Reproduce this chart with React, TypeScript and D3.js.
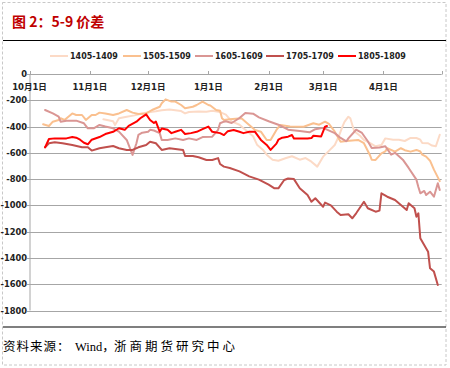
import React from "react";
import * as d3 from "d3";

// ---------- data ----------
const seriesNames = ["1405-1409", "1505-1509", "1605-1609", "1705-1709", "1805-1809"];
const seriesColors = ["#FCDAC6", "#FAC08F", "#DA9694", "#C0504D", "#FF0000"];

const s1405: [string, number][] = [
  ["11-08", -345], ["11-13", -360], ["11-14", -388], ["11-16", -337], ["11-20", -325],
  ["11-24", -315], ["11-28", -300], ["12-03", -287], ["12-05", -284], ["12-08", -276],
  ["12-12", -271], ["12-15", -276], ["12-18", -282], ["12-20", -300], ["12-22", -289],
  ["12-27", -285], ["12-31", -287], ["01-03", -279], ["01-07", -290], ["01-10", -309],
  ["01-13", -360], ["01-17", -386], ["01-20", -424], ["01-24", -474], ["01-26", -538],
  ["01-29", -576], ["01-31", -614], ["02-03", -652], ["02-06", -660], ["02-10", -639],
  ["02-13", -626], ["02-17", -652], ["02-20", -640], ["02-23", -667], ["02-26", -705],
  ["03-01", -629], ["03-04", -585], ["03-07", -540], ["03-09", -477], ["03-11", -398],
  ["03-12", -365], ["03-14", -325], ["03-15", -337], ["03-17", -436], ["03-20", -470],
  ["03-22", -502], ["03-25", -525], ["03-28", -550], ["03-31", -540], ["04-02", -490],
  ["04-06", -500], ["04-09", -500], ["04-12", -510], ["04-15", -487], ["04-18", -487],
  ["04-20", -500], ["04-21", -525], ["04-24", -527], ["04-26", -545], ["04-28", -550],
  ["04-30", -462],
];

const s1505: [string, number][] = [
  ["10-08", -383], ["10-11", -396], ["10-13", -363], ["10-16", -350], ["10-17", -337],
  ["10-19", -350], ["10-23", -300], ["10-25", -312], ["10-28", -312], ["10-30", -350],
  ["11-02", -312], ["11-04", -312], ["11-06", -294], ["11-09", -300], ["11-13", -312],
  ["11-16", -300], ["11-20", -274], ["11-23", -294], ["11-26", -304], ["11-30", -300],
  ["12-03", -274], ["12-07", -249], ["12-08", -223], ["12-10", -193], ["12-13", -210],
  ["12-15", -210], ["12-18", -236], ["12-20", -261], ["12-24", -249], ["12-26", -236],
  ["12-29", -210], ["01-01", -236], ["01-02", -240], ["01-05", -274], ["01-07", -280],
  ["01-08", -337], ["01-09", -350], ["01-12", -345], ["01-18", -337], ["01-22", -388],
  ["01-25", -426], ["01-28", -439], ["01-31", -502], ["02-02", -502], ["02-05", -426],
  ["02-07", -388], ["02-12", -400], ["02-19", -401], ["02-24", -375], ["02-27", -386],
  ["03-02", -363], ["03-04", -380], ["03-07", -439], ["03-10", -515], ["03-13", -510],
  ["03-19", -502], ["03-22", -527], ["03-25", -614], ["03-26", -652], ["03-28", -654],
  ["03-31", -604], ["04-02", -589], ["04-03", -565], ["04-07", -591], ["04-10", -565],
  ["04-12", -580], ["04-15", -591], ["04-18", -578], ["04-20", -590], ["04-21", -614],
  ["04-23", -629], ["04-25", -660], ["04-27", -728], ["04-30", -815],
];

const s1605: [string, number][] = [
  ["10-09", -274], ["10-13", -300], ["10-16", -325], ["10-17", -363], ["10-20", -355],
  ["10-25", -355], ["10-29", -375], ["10-31", -413], ["11-03", -413], ["11-06", -388],
  ["11-09", -400], ["11-13", -413], ["11-16", -439], ["11-20", -502], ["11-22", -578],
  ["11-23", -616], ["11-25", -527], ["11-26", -464], ["11-28", -447], ["12-01", -440],
  ["12-02", -425], ["12-04", -430], ["12-07", -450], ["12-08", -502], ["12-11", -502],
  ["12-15", -490], ["12-19", -502], ["12-22", -490], ["12-26", -502], ["12-29", -480],
  ["01-03", -477], ["01-06", -425], ["01-07", -375], ["01-09", -363], ["01-10", -360],
  ["01-13", -373], ["01-17", -335], ["01-20", -297], ["01-24", -302], ["01-27", -330],
  ["02-01", -360], ["02-06", -386], ["02-11", -424], ["02-17", -434], ["02-22", -444],
  ["02-25", -420], ["03-01", -410], ["03-03", -424], ["03-07", -450], ["03-10", -487],
  ["03-13", -512], ["03-14", -490], ["03-18", -424], ["03-21", -449], ["03-24", -512],
  ["03-26", -563], ["03-30", -560], ["04-02", -550], ["04-05", -614], ["04-07", -600],
  ["04-11", -652], ["04-14", -715], ["04-18", -804], ["04-19", -860], ["04-20", -908],
  ["04-22", -890], ["04-23", -921], ["04-25", -896], ["04-27", -934], ["04-29", -832],
  ["04-30", -883],
];

const s1705: [string, number][] = [
  ["10-09", -558], ["10-11", -527], ["10-14", -520], ["10-18", -527], ["10-23", -540],
  ["10-28", -558], ["10-31", -558], ["11-02", -583], ["11-06", -565], ["11-09", -558],
  ["11-13", -548], ["11-16", -565], ["11-20", -578], ["11-23", -578], ["11-26", -558],
  ["11-30", -540], ["12-02", -515], ["12-05", -527], ["12-08", -578], ["12-12", -565],
  ["12-15", -570], ["12-19", -578], ["12-20", -624], ["12-24", -624], ["12-27", -634],
  ["12-31", -654], ["01-03", -654], ["01-06", -640], ["01-07", -685], ["01-09", -705],
  ["01-12", -715], ["01-17", -741], ["01-22", -779], ["01-27", -804], ["02-01", -842],
  ["02-04", -870], ["02-06", -870], ["02-09", -807], ["02-11", -795], ["02-14", -800],
  ["02-17", -870], ["02-21", -921], ["02-23", -972], ["02-25", -946], ["03-01", -1010],
  ["03-02", -979], ["03-05", -1000], ["03-08", -1048], ["03-10", -1073], ["03-14", -1068],
  ["03-16", -1098], ["03-18", -1060], ["03-22", -972], ["03-24", -1022], ["03-28", -1048],
  ["03-30", -1040], ["03-31", -908], ["04-03", -934], ["04-07", -959], ["04-10", -997],
  ["04-13", -1035], ["04-14", -984], ["04-17", -1022], ["04-18", -1086], ["04-19", -1060],
  ["04-20", -1250], ["04-24", -1352], ["04-25", -1479], ["04-27", -1504], ["04-29", -1606],
];

const s1805: [string, number][] = [
  ["10-09", -558], ["10-11", -495], ["10-14", -490], ["10-20", -490], ["10-23", -480],
  ["10-25", -485], ["10-27", -500], ["10-29", -523], ["10-31", -535], ["11-02", -500],
  ["11-06", -480], ["11-09", -457], ["11-13", -440], ["11-16", -413], ["11-19", -425],
  ["11-21", -395], ["11-25", -363], ["11-27", -337], ["11-30", -307], ["12-02", -350],
  ["12-04", -373], ["12-05", -362], ["12-07", -440], ["12-08", -415], ["12-11", -425],
  ["12-13", -450], ["12-15", -440], ["12-18", -425], ["12-20", -457], ["12-23", -450],
  ["12-26", -440], ["12-29", -420], ["01-01", -400], ["01-03", -440], ["01-07", -450],
  ["01-09", -465], ["01-11", -435], ["01-14", -426], ["01-17", -440], ["01-19", -450],
  ["01-22", -440], ["01-25", -440], ["01-28", -502], ["01-31", -540], ["02-02", -578],
  ["02-05", -530], ["02-06", -500], ["02-08", -485], ["02-11", -477], ["02-13", -464],
  ["02-14", -490], ["02-17", -490], ["02-21", -490], ["02-23", -488], ["02-24", -470],
  ["02-28", -475], ["03-02", -401], ["03-03", -396],
];

const seriesData = [s1405, s1505, s1605, s1705, s1805];

const yTicks = [0, -200, -400, -600, -800, -1000, -1200, -1400, -1600, -1800];
const xTickLabels = ["10月1日", "11月1日", "12月1日", "1月1日", "2月1日", "3月1日", "4月1日"];
const xTickDates = ["2017-10-01", "2017-11-01", "2017-12-01", "2018-01-01", "2018-02-01", "2018-03-01", "2018-04-01"];
const titleText = "图 2：5-9 价差";

// ---------- helpers ----------
const parseFull = d3.timeParse("%Y-%m-%d");
const toDate = (md: string) => {
  const m = +md.slice(0, 2);
  return parseFull(`${m >= 10 ? 2017 : 2018}-${md}`) as Date;
};

export default function App() {
  const x = d3
    .scaleTime()
    .domain([new Date(2017, 9, 1), new Date(2018, 4, 1)])
    .range([29.5, 441.7]);
  const y = d3.scaleLinear().domain([-1800, 0]).range([310.5, 74]);
  const line = d3
    .line<[string, number]>()
    .x((d) => x(toDate(d[0])))
    .y((d) => y(d[1]));

  const x0 = x.range()[0];
  const x1 = x.range()[1];
  const tickDates = [...xTickDates.map((s) => parseFull(s) as Date), new Date(2018, 4, 1)];

  const legendX = [50, 123, 195, 266, 338];

  return (
    <div style={{ position: "absolute", left: 0, top: 0 }}>
      <svg width={450} height={368} style={{ display: "block" }}>
        <rect x={0} y={0} width={450} height={368} fill="#fff" />
        <rect
          x={2.5}
          y={2.5}
          width={443.5}
          height={362.5}
          fill="none"
          stroke="#C8C8C8"
          strokeDasharray="3,2"
        />
        <text
          x={12}
          y={27}
          fill="#C00000"
          fontFamily="'Noto Sans CJK SC', sans-serif"
          fontWeight="bold"
          fontSize={14}
        >
          {titleText}
        </text>
        <line x1={3} x2={446} y1={40.5} y2={40.5} stroke="#000" strokeWidth={1.2} />

        {/* legend */}
        {seriesNames.map((n, i) => (
          <g key={n}>
            <line
              x1={legendX[i]}
              x2={legendX[i] + 18}
              y1={56}
              y2={56}
              stroke={seriesColors[i]}
              strokeWidth={2}
            />
            <text
              x={legendX[i] + 20}
              y={59}
              fontFamily="'DejaVu Sans', sans-serif"
              fontSize={8}
              fontWeight="bold"
              fill="#222"
            >
              {n}
            </text>
          </g>
        ))}

        {/* gridlines */}
        {yTicks.slice(1).map((t) => (
          <line
            key={t}
            x1={x0}
            x2={x1}
            y1={Math.round(y(t)) + 0.5}
            y2={Math.round(y(t)) + 0.5}
            stroke="#A6A6A6"
            strokeWidth={1}
          />
        ))}
        {/* y axis */}
        <line x1={30} x2={30} y1={y(0)} y2={y(-1800)} stroke="#A6A6A6" />
        {yTicks.map((t) => (
          <line
            key={"yt" + t}
            x1={27}
            x2={30}
            y1={Math.round(y(t)) + 0.5}
            y2={Math.round(y(t)) + 0.5}
            stroke="#A6A6A6"
          />
        ))}
        {yTicks.map((t) => (
          <text
            key={"yl" + t}
            x={27}
            y={y(t) + 3}
            textAnchor="end"
            fontFamily="'DejaVu Sans', sans-serif"
            fontSize={8.3}
            fontWeight="bold"
            fill="#222"
          >
            {t}
          </text>
        ))}
        {/* x axis at 0 */}
        <line x1={x0} x2={x1} y1={74.5} y2={74.5} stroke="#A6A6A6" />
        {tickDates.map((d, i) => (
          <line
            key={"xt" + i}
            x1={Math.round(x(d)) + 0.5}
            x2={Math.round(x(d)) + 0.5}
            y1={71}
            y2={74.5}
            stroke="#A6A6A6"
          />
        ))}
        {xTickLabels.map((l, i) => (
          <text
            key={l}
            x={x(tickDates[i])}
            y={90}
            textAnchor="middle"
            fontFamily="'DejaVu Sans', 'Noto Sans CJK SC', sans-serif"
            fontSize={8.5}
            fontWeight="bold"
            fill="#222"
          >
            {l}
          </text>
        ))}

        {/* series */}
        {seriesData.map((s, i) => (
          <path
            key={seriesNames[i]}
            d={line(s) || ""}
            fill="none"
            stroke={seriesColors[i]}
            strokeWidth={2}
            strokeLinejoin="round"
            strokeLinecap="round"
          />
        ))}

        <line x1={3} x2={446} y1={327} y2={327} stroke="#000" strokeWidth={1.2} />
        <text
          x={3}
          y={351}
          fontFamily="'Liberation Serif', 'Noto Sans CJK SC', serif"
          fontSize={12.5}
          fill="#000"
        >
          <tspan letterSpacing={1}>资料来源：</tspan>
          <tspan x={75}>Wind，</tspan>
          <tspan x={114} letterSpacing={3}>
            浙商期货研究中心
          </tspan>
        </text>
      </svg>
    </div>
  );
}
